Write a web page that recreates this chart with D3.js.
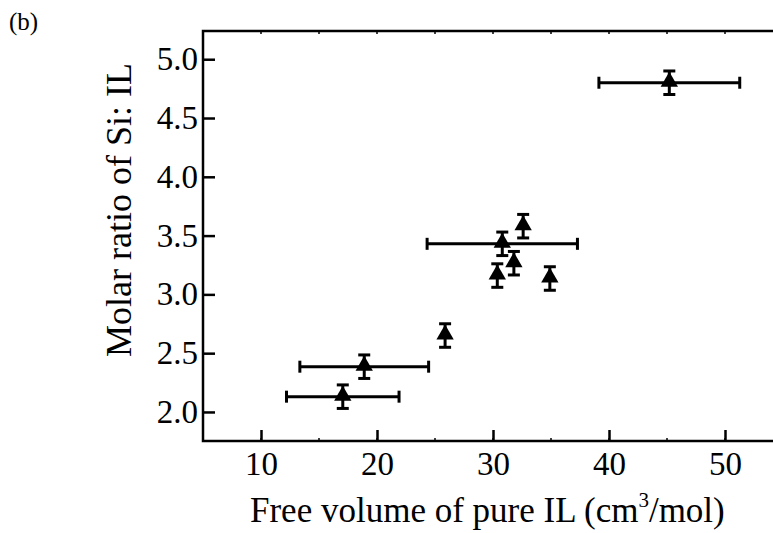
<!DOCTYPE html>
<html>
<head>
<meta charset="utf-8">
<script src="https://cdn.jsdelivr.net/npm/d3@7"></script>
<style>
  body { margin: 0; background: #fff; }
  text { font-family: "Liberation Serif", "Times New Roman", serif; fill: #000; }
</style>
</head>
<body>
<div id="chart"></div>
<script>
var svgWidth = 773;
var svgHeight = 533;

// data
var freeVolume = [17.05, 18.9, 25.87, 30.8, 32.6, 31.8, 30.37, 34.9, 45.2];
var molarRatio = [2.13, 2.385, 2.65, 3.43, 3.58, 3.265, 3.16, 3.135, 4.80];
var xErr = [4.85, 5.55, 0, 6.48, 0, 0, 0, 0, 6.07];
var yErr = [0.1, 0.1, 0.1, 0.1, 0.1, 0.1, 0.1, 0.1, 0.1];
var xTicks = [10, 20, 30, 40, 50];
var yTicks = [2.0, 2.5, 3.0, 3.5, 4.0, 4.5, 5.0];

var margin = { top: 31, left: 203, bottom: 92, right: -10 };
var chartWidth = svgWidth - margin.left - margin.right;
var chartHeight = svgHeight - margin.top - margin.bottom;

var svg = d3.select("#chart")
    .append("svg")
    .attr("width", svgWidth)
    .attr("height", svgHeight);

var chartGroup = svg.append("g")
    .attr("transform", `translate(${margin.left},${margin.top})`);

var xScale = d3.scaleLinear()
    .domain([5, 55])
    .range([0, chartWidth]);

var yScale = d3.scaleLinear()
    .domain([1.753, 5.24])
    .range([chartHeight, 0]);

// frame
chartGroup.append("rect")
    .attr("x", 0).attr("y", 0)
    .attr("width", chartWidth).attr("height", chartHeight)
    .attr("fill", "none")
    .attr("stroke", "#000")
    .attr("stroke-width", 2.5);

// axes
var xAxis = d3.axisBottom(xScale)
    .tickValues(xTicks)
    .tickSizeInner(-11)
    .tickSizeOuter(0)
    .tickPadding(11)
    .tickFormat(d3.format("d"));

var yAxis = d3.axisLeft(yScale)
    .tickValues(yTicks)
    .tickSizeInner(-12)
    .tickSizeOuter(0)
    .tickPadding(5)
    .tickFormat(d3.format(".1f"));

var xg = chartGroup.append("g")
    .attr("transform", `translate(0,${chartHeight})`)
    .call(xAxis);

var yg = chartGroup.append("g")
    .call(yAxis);

[xg, yg].forEach(function(g) {
    g.attr("font-family", null);
    g.select(".domain").remove();
    g.selectAll(".tick line").attr("stroke", "#000").attr("stroke-width", 2.5);
    g.selectAll(".tick text")
        .style("font-size", "33px")
        .style("font-family", "Liberation Serif");
});

// minor ticks on top and bottom
var minor = d3.range(10, 56, 5);
chartGroup.selectAll(".minorBottom")
    .data(minor)
    .enter()
    .append("line")
    .attr("x1", d => xScale(d)).attr("x2", d => xScale(d))
    .attr("y1", chartHeight).attr("y2", chartHeight - 3)
    .attr("stroke", "#000").attr("stroke-width", 1.5);

chartGroup.selectAll(".minorTop")
    .data(minor)
    .enter()
    .append("line")
    .attr("x1", d => xScale(d)).attr("x2", d => xScale(d))
    .attr("y1", 0).attr("y2", 3)
    .attr("stroke", "#000").attr("stroke-width", 1.5);

var points = freeVolume.map(function(v, i) {
    return { x: v, y: molarRatio[i], ex: xErr[i], ey: yErr[i] };
});

var cap = 6;
var errGroup = chartGroup.append("g")
    .attr("stroke", "#000")
    .attr("stroke-width", 3);

points.forEach(function(d) {
    var cx = xScale(d.x), cy = yScale(d.y);
    if (d.ex > 0) {
        var x0 = xScale(d.x - d.ex), x1 = xScale(d.x + d.ex);
        errGroup.append("line").attr("x1", x0).attr("x2", x1).attr("y1", cy).attr("y2", cy);
        errGroup.append("line").attr("x1", x0).attr("x2", x0).attr("y1", cy - cap).attr("y2", cy + cap);
        errGroup.append("line").attr("x1", x1).attr("x2", x1).attr("y1", cy - cap).attr("y2", cy + cap);
    }
    var y0 = yScale(d.y - d.ey), y1 = yScale(d.y + d.ey);
    errGroup.append("line").attr("x1", cx).attr("x2", cx).attr("y1", y0).attr("y2", y1);
    errGroup.append("line").attr("x1", cx - cap).attr("x2", cx + cap).attr("y1", y0).attr("y2", y0);
    errGroup.append("line").attr("x1", cx - cap).attr("x2", cx + cap).attr("y1", y1).attr("y2", y1);
});

// triangle markers
var tri = d3.symbol().type(d3.symbolTriangle).size(130);
chartGroup.selectAll(".marker")
    .data(points)
    .enter()
    .append("path")
    .attr("d", tri)
    .attr("transform", d => `translate(${xScale(d.x)},${yScale(d.y) - 1})`)
    .attr("fill", "#000");

// labels
svg.append("text")
    .attr("x", 250)
    .attr("y", 522)
    .style("font-size", "35px")
    .html('Free volume of pure IL (cm<tspan dy="-15" style="font-size:21px">3</tspan><tspan dy="15">/mol)</tspan>');

svg.append("text")
    .attr("transform", `translate(131, 210) rotate(-90)`)
    .attr("text-anchor", "middle")
    .style("font-size", "36px")
    .text("Molar ratio of Si: IL");

svg.append("text")
    .attr("x", 9)
    .attr("y", 30)
    .style("font-size", "25px")
    .text("(b)");
</script>
</body>
</html>
